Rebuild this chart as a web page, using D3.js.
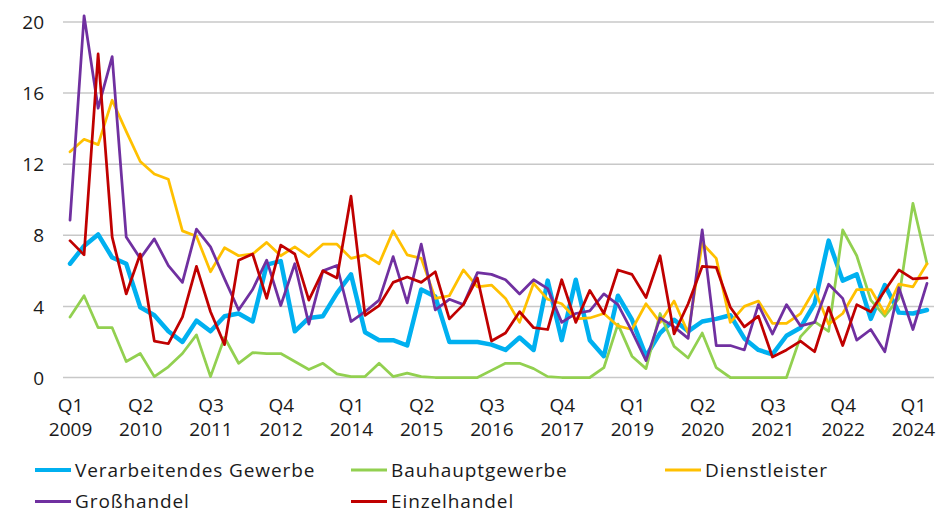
<!DOCTYPE html>
<html>
<head>
<meta charset="utf-8">
<script src="https://cdn.jsdelivr.net/npm/d3@7"></script>
<style>
  html, body { margin: 0; padding: 0; background: #fff; }
  svg { display: block; }
  text { font-family: "Open Sans", "Noto Sans", sans-serif; fill: #1a1a1a; }
</style>
</head>
<body>
<svg id="chart" width="940" height="515"></svg>
<script>
// ---- data ----
const quarters = [];
for (let y = 2009; y <= 2024; y++) {
  for (let q = 1; q <= 4; q++) {
    if (y === 2024 && q > 2) break;
    quarters.push("Q" + q + " " + y);
  }
}
const tickLabels = ["Q1 2009","Q2 2010","Q3 2011","Q4 2012","Q1 2014","Q2 2015","Q3 2016","Q4 2017","Q1 2019","Q2 2020","Q3 2021","Q4 2022","Q1 2024"];
const yTicks = [0, 4, 8, 12, 16, 20];

const seriesNames = ["Verarbeitendes Gewerbe", "Bauhauptgewerbe", "Dienstleister", "Großhandel", "Einzelhandel"];
const seriesColors = ["#00B0F0", "#92D050", "#FFC000", "#7030A0", "#C00000"];

const verarbeitendesGewerbe = [6.4,7.4,8.05,6.75,6.4,3.95,3.5,2.6,2.0,3.2,2.6,3.45,3.6,3.15,6.35,6.55,2.6,3.35,3.45,4.75,5.8,2.55,2.1,2.1,1.8,4.95,4.55,2.0,2.0,2.0,1.85,1.55,2.25,1.55,5.45,2.1,5.5,2.1,1.2,4.6,3.25,1.2,2.5,3.25,2.6,3.15,3.3,3.5,2.2,1.55,1.3,2.35,2.8,4.15,7.7,5.45,5.8,3.3,5.2,3.65,3.6,3.8];
const bauhauptgewerbe = [3.4,4.6,2.8,2.8,0.9,1.35,0.05,0.6,1.35,2.4,0.05,2.25,0.8,1.4,1.35,1.35,0.9,0.45,0.8,0.2,0.05,0.05,0.8,0.05,0.25,0.05,0,0,0,0,0.4,0.8,0.8,0.5,0.05,0,0,0,0.55,3.0,1.2,0.5,3.6,1.75,1.1,2.5,0.55,0,0,0,0,0,2.3,3.15,2.6,8.3,6.85,4.35,3.45,4.45,9.8,6.4];
const dienstleister = [12.7,13.4,13.1,15.6,13.85,12.15,11.45,11.15,8.25,7.95,5.95,7.3,6.85,6.95,7.6,6.85,7.35,6.8,7.5,7.5,6.7,6.9,6.4,8.25,6.9,6.7,4.45,4.6,6.05,5.1,5.2,4.45,3.1,5.3,4.4,4.15,3.3,3.35,3.6,2.9,2.7,4.15,3.1,4.3,2.5,7.55,6.7,3.1,4.0,4.3,3.05,3.05,3.6,4.95,3.0,3.6,4.95,4.95,3.6,5.25,5.1,6.4];
const grosshandel = [8.85,20.35,15.15,18.05,7.9,6.7,7.8,6.3,5.35,8.35,7.35,5.55,3.8,4.95,6.6,4.05,6.4,3.0,6.0,6.3,3.15,3.7,4.35,6.8,4.2,7.5,3.8,4.4,4.1,5.9,5.8,5.5,4.7,5.5,5.0,3.1,3.6,3.75,4.7,4.1,2.6,0.95,3.35,2.85,2.2,8.3,1.8,1.8,1.55,4.1,2.45,4.1,2.9,3.1,5.25,4.45,2.1,2.7,1.45,5.05,2.7,5.3];
const einzelhandel = [7.7,6.9,18.2,7.9,4.7,6.95,2.05,1.9,3.4,6.25,3.7,1.85,6.6,6.95,4.45,7.45,6.95,4.35,6.0,5.6,10.2,3.5,4.05,5.35,5.65,5.35,5.95,3.3,4.1,5.6,2.05,2.5,3.7,2.8,2.7,5.5,3.1,4.9,3.6,6.05,5.8,4.5,6.85,2.45,4.15,6.25,6.2,3.95,2.85,3.45,1.15,1.55,2.05,1.45,3.95,1.8,4.1,3.7,4.9,6.05,5.55,5.6];

const seriesValues = [verarbeitendesGewerbe, bauhauptgewerbe, dienstleister, grosshandel, einzelhandel];
const seriesWidths = [4.5, 2.75, 2.75, 2.75, 2.75];

// ---- layout ----
const svg = d3.select("#chart");
const plotLeft = 63, plotRight = 934, plotTop = 22, plotBottom = 377.5;

const x = d3.scalePoint().domain(quarters).range([plotLeft, plotRight]).padding(0.5);
const y = d3.scaleLinear().domain([0, 20]).range([plotBottom, plotTop]);

// gridlines
svg.append("g").selectAll("line").data(yTicks).join("line")
  .attr("x1", plotLeft).attr("x2", plotRight)
  .attr("y1", d => y(d)).attr("y2", d => y(d))
  .attr("stroke", "#c8c8c8").attr("stroke-width", 1.5);

// y axis labels
const yAxis = d3.axisLeft(y).tickValues(yTicks).tickSize(0).tickPadding(0);
const gy = svg.append("g").attr("transform", `translate(44,0)`).call(yAxis);
gy.select(".domain").remove();
gy.selectAll("text").attr("font-size", 19).attr("font-family", '"Open Sans", "Noto Sans", sans-serif').attr("fill", "#1a1a1a").attr("dy", "0.35em");

// x axis labels
const xAxis = d3.axisBottom(x).tickValues(tickLabels).tickSize(0).tickFormat(() => "");
const gx = svg.append("g").attr("transform", `translate(0,${plotBottom})`).call(xAxis);
gx.select(".domain").remove();
gx.selectAll(".tick").each(function(d) {
  const parts = d.split(" ");
  const t = d3.select(this).append("text")
    .attr("text-anchor", "middle").attr("font-size", 19).attr("fill", "#1a1a1a");
  t.append("tspan").attr("x", 0).attr("y", 34).text(parts[0]);
  t.append("tspan").attr("x", 0).attr("y", 58).text(parts[1]);
});

// lines
const line = d3.line().x((d, i) => x(quarters[i])).y(d => y(d));
svg.append("g").selectAll("path").data(seriesValues).join("path")
  .attr("d", d => line(d))
  .attr("fill", "none")
  .attr("stroke", (d, i) => seriesColors[i])
  .attr("stroke-width", (d, i) => seriesWidths[i])
  .attr("stroke-linejoin", "round")
  .attr("stroke-linecap", "round");

// legend
const legendPos = [[35, 470], [351, 470], [665, 470], [35, 501.5], [351, 501.5]];
const lg = svg.append("g").selectAll("g").data(seriesNames).join("g")
  .attr("transform", (d, i) => `translate(${legendPos[i][0]},${legendPos[i][1]})`);
lg.append("line").attr("x1", 0).attr("x2", 36).attr("y1", 0).attr("y2", 0)
  .attr("stroke", (d, i) => seriesColors[i])
  .attr("stroke-width", (d, i) => i === 0 ? 4 : 3);
lg.append("text").attr("x", 40).attr("dy", "0.35em").attr("font-size", 19)
  .attr("letter-spacing", 0.9).text(d => d);
</script>
</body>
</html>
